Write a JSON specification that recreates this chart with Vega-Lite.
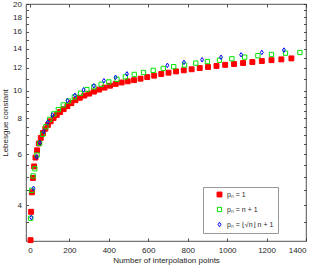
{
  "$schema": "https://vega.github.io/schema/vega-lite/v6.json",
  "width": 280,
  "height": 237,
  "autosize": {"type": "none"},
  "padding": {"left": 26, "top": 4, "right": 9, "bottom": 27},
  "config": {
    "view": {"stroke": "#262626", "strokeWidth": 0.8},
    "font": "Liberation Sans",
    "axis": {
      "domain": false,
      "grid": false,
      "tickColor": "#262626",
      "tickWidth": 0.8,
      "labelColor": "#262626",
      "labelFontSize": 8,
      "titleColor": "#262626",
      "titleFontSize": 8,
      "titleFontWeight": "normal"
    },
    "legend": {
      "labelFontSize": 7,
      "labelColor": "#262626",
      "strokeColor": "#999999",
      "fillColor": "white",
      "padding": 4,
      "rowPadding": 6,
      "symbolOffset": 9,
      "labelOffset": 4
    }
  },
  "data": {
    "values": [
      {"s": "pₙ = 1", "n": 3, "v": 3.02},
      {"s": "pₙ = 1", "n": 6, "v": 3.79},
      {"s": "pₙ = 1", "n": 10, "v": 4.43},
      {"s": "pₙ = 1", "n": 15, "v": 4.97},
      {"s": "pₙ = 1", "n": 21, "v": 5.45},
      {"s": "pₙ = 1", "n": 28, "v": 5.85},
      {"s": "pₙ = 1", "n": 36, "v": 6.2},
      {"s": "pₙ = 1", "n": 45, "v": 6.55},
      {"s": "pₙ = 1", "n": 55, "v": 6.85},
      {"s": "pₙ = 1", "n": 66, "v": 7.12},
      {"s": "pₙ = 1", "n": 78, "v": 7.37},
      {"s": "pₙ = 1", "n": 91, "v": 7.6},
      {"s": "pₙ = 1", "n": 105, "v": 7.82},
      {"s": "pₙ = 1", "n": 120, "v": 8.03},
      {"s": "pₙ = 1", "n": 136, "v": 8.23},
      {"s": "pₙ = 1", "n": 153, "v": 8.42},
      {"s": "pₙ = 1", "n": 171, "v": 8.62},
      {"s": "pₙ = 1", "n": 190, "v": 8.83},
      {"s": "pₙ = 1", "n": 210, "v": 9.05},
      {"s": "pₙ = 1", "n": 231, "v": 9.26},
      {"s": "pₙ = 1", "n": 253, "v": 9.44},
      {"s": "pₙ = 1", "n": 276, "v": 9.61},
      {"s": "pₙ = 1", "n": 300, "v": 9.76},
      {"s": "pₙ = 1", "n": 325, "v": 9.92},
      {"s": "pₙ = 1", "n": 351, "v": 10.08},
      {"s": "pₙ = 1", "n": 378, "v": 10.24},
      {"s": "pₙ = 1", "n": 406, "v": 10.4},
      {"s": "pₙ = 1", "n": 435, "v": 10.55},
      {"s": "pₙ = 1", "n": 465, "v": 10.67},
      {"s": "pₙ = 1", "n": 496, "v": 10.77},
      {"s": "pₙ = 1", "n": 528, "v": 10.87},
      {"s": "pₙ = 1", "n": 561, "v": 11.0},
      {"s": "pₙ = 1", "n": 595, "v": 11.14},
      {"s": "pₙ = 1", "n": 630, "v": 11.27},
      {"s": "pₙ = 1", "n": 666, "v": 11.42},
      {"s": "pₙ = 1", "n": 703, "v": 11.54},
      {"s": "pₙ = 1", "n": 741, "v": 11.66},
      {"s": "pₙ = 1", "n": 780, "v": 11.76},
      {"s": "pₙ = 1", "n": 820, "v": 11.86},
      {"s": "pₙ = 1", "n": 861, "v": 11.98},
      {"s": "pₙ = 1", "n": 903, "v": 12.08},
      {"s": "pₙ = 1", "n": 946, "v": 12.18},
      {"s": "pₙ = 1", "n": 990, "v": 12.29},
      {"s": "pₙ = 1", "n": 1035, "v": 12.37},
      {"s": "pₙ = 1", "n": 1081, "v": 12.47},
      {"s": "pₙ = 1", "n": 1128, "v": 12.57},
      {"s": "pₙ = 1", "n": 1176, "v": 12.67},
      {"s": "pₙ = 1", "n": 1225, "v": 12.76},
      {"s": "pₙ = 1", "n": 1275, "v": 12.84},
      {"s": "pₙ = 1", "n": 1326, "v": 12.94},
      {"s": "pₙ = n + 1", "n": 4, "v": 3.6},
      {"s": "pₙ = n + 1", "n": 9, "v": 4.5},
      {"s": "pₙ = n + 1", "n": 16, "v": 5.05},
      {"s": "pₙ = n + 1", "n": 25, "v": 5.35},
      {"s": "pₙ = n + 1", "n": 36, "v": 5.97},
      {"s": "pₙ = n + 1", "n": 49, "v": 6.55},
      {"s": "pₙ = n + 1", "n": 64, "v": 7.05},
      {"s": "pₙ = n + 1", "n": 81, "v": 7.49},
      {"s": "pₙ = n + 1", "n": 100, "v": 7.94},
      {"s": "pₙ = n + 1", "n": 121, "v": 8.3},
      {"s": "pₙ = n + 1", "n": 144, "v": 8.59},
      {"s": "pₙ = n + 1", "n": 169, "v": 8.92},
      {"s": "pₙ = n + 1", "n": 196, "v": 9.2},
      {"s": "pₙ = n + 1", "n": 225, "v": 9.5},
      {"s": "pₙ = n + 1", "n": 256, "v": 9.79},
      {"s": "pₙ = n + 1", "n": 289, "v": 10.08},
      {"s": "pₙ = n + 1", "n": 324, "v": 10.3},
      {"s": "pₙ = n + 1", "n": 361, "v": 10.52},
      {"s": "pₙ = n + 1", "n": 400, "v": 10.72},
      {"s": "pₙ = n + 1", "n": 441, "v": 10.95},
      {"s": "pₙ = n + 1", "n": 484, "v": 11.16},
      {"s": "pₙ = n + 1", "n": 529, "v": 11.38},
      {"s": "pₙ = n + 1", "n": 576, "v": 11.56},
      {"s": "pₙ = n + 1", "n": 625, "v": 11.76},
      {"s": "pₙ = n + 1", "n": 676, "v": 11.94},
      {"s": "pₙ = n + 1", "n": 729, "v": 12.11},
      {"s": "pₙ = n + 1", "n": 784, "v": 12.27},
      {"s": "pₙ = n + 1", "n": 841, "v": 12.46},
      {"s": "pₙ = n + 1", "n": 900, "v": 12.62},
      {"s": "pₙ = n + 1", "n": 961, "v": 12.75},
      {"s": "pₙ = n + 1", "n": 1024, "v": 12.9},
      {"s": "pₙ = n + 1", "n": 1089, "v": 13.07},
      {"s": "pₙ = n + 1", "n": 1156, "v": 13.22},
      {"s": "pₙ = n + 1", "n": 1225, "v": 13.35},
      {"s": "pₙ = n + 1", "n": 1296, "v": 13.49},
      {"s": "pₙ = n + 1", "n": 1369, "v": 13.57},
      {"s": "pₙ = ⌊√n⌋ n + 1", "n": 7, "v": 3.62},
      {"s": "pₙ = ⌊√n⌋ n + 1", "n": 18, "v": 4.57},
      {"s": "pₙ = ⌊√n⌋ n + 1", "n": 34, "v": 5.88},
      {"s": "pₙ = ⌊√n⌋ n + 1", "n": 50, "v": 6.59},
      {"s": "pₙ = ⌊√n⌋ n + 1", "n": 70, "v": 7.2},
      {"s": "pₙ = ⌊√n⌋ n + 1", "n": 90, "v": 7.77},
      {"s": "pₙ = ⌊√n⌋ n + 1", "n": 114, "v": 8.22},
      {"s": "pₙ = ⌊√n⌋ n + 1", "n": 190, "v": 9.23},
      {"s": "pₙ = ⌊√n⌋ n + 1", "n": 228, "v": 9.63},
      {"s": "pₙ = ⌊√n⌋ n + 1", "n": 272, "v": 10.06},
      {"s": "pₙ = ⌊√n⌋ n + 1", "n": 324, "v": 10.39},
      {"s": "pₙ = ⌊√n⌋ n + 1", "n": 375, "v": 10.82},
      {"s": "pₙ = ⌊√n⌋ n + 1", "n": 434, "v": 11.12},
      {"s": "pₙ = ⌊√n⌋ n + 1", "n": 492, "v": 11.43},
      {"s": "pₙ = ⌊√n⌋ n + 1", "n": 697, "v": 12.24},
      {"s": "pₙ = ⌊√n⌋ n + 1", "n": 781, "v": 12.53},
      {"s": "pₙ = ⌊√n⌋ n + 1", "n": 873, "v": 12.8},
      {"s": "pₙ = ⌊√n⌋ n + 1", "n": 969, "v": 13.06},
      {"s": "pₙ = ⌊√n⌋ n + 1", "n": 1071, "v": 13.32},
      {"s": "pₙ = ⌊√n⌋ n + 1", "n": 1176, "v": 13.57},
      {"s": "pₙ = ⌊√n⌋ n + 1", "n": 1288, "v": 13.83}
    ]
  },
  "layer": [
    {
      "mark": {"type": "point", "opacity": 1},
      "encoding": {
        "x": {
          "field": "n", "type": "quantitative",
          "scale": {"domain": [-20, 1400], "nice": false, "zero": false},
          "axis": {
            "orient": "bottom",
            "values": [0, 200, 400, 600, 800, 1000, 1200, 1400],
            "format": "d",
            "tickSize": -3,
            "labelPadding": 8,
            "title": "Number of interpolation points",
            "titlePadding": 2
          }
        },
        "y": {
          "field": "v", "type": "quantitative",
          "scale": {"type": "log", "domain": [3, 20], "nice": false, "zero": false},
          "axis": {
            "orient": "left",
            "values": [3.5, 4, 4.5, 5, 5.5, 6, 6.5, 7, 7.5, 8, 8.5, 9, 9.5, 10, 11, 12, 13, 14, 15, 16, 17, 18, 19, 20],
            "labelExpr": "indexof([4,6,8,10,12,14,16,18,20], datum.value) >= 0 ? datum.label : ''",
            "tickSize": -2.5,
            "labelPadding": 7,
            "title": "Lebesgue constant",
            "titlePadding": 3
          }
        },
        "shape": {
          "field": "s", "type": "nominal",
          "scale": {
            "domain": ["pₙ = 1", "pₙ = n + 1", "pₙ = ⌊√n⌋ n + 1"],
            "range": ["square", "square", "M0,-1.25L0.8,0L0,1.25L-0.8,0Z"]
          },
          "legend": {"orient": "none", "legendX": 177, "legendY": 183, "title": null}
        },
        "stroke": {
          "field": "s", "type": "nominal",
          "scale": {
            "domain": ["pₙ = 1", "pₙ = n + 1", "pₙ = ⌊√n⌋ n + 1"],
            "range": ["#ff0000", "#00e600", "#0000ff"]
          },
          "legend": {"orient": "none", "legendX": 177, "legendY": 183, "title": null}
        },
        "fill": {
          "field": "s", "type": "nominal",
          "scale": {
            "domain": ["pₙ = 1", "pₙ = n + 1", "pₙ = ⌊√n⌋ n + 1"],
            "range": ["#ff0000", "transparent", "transparent"]
          },
          "legend": {"orient": "none", "legendX": 177, "legendY": 183, "title": null}
        },
        "size": {
          "field": "s", "type": "nominal",
          "scale": {
            "domain": ["pₙ = 1", "pₙ = n + 1", "pₙ = ⌊√n⌋ n + 1"],
            "range": [24, 13, 22]
          },
          "legend": {"orient": "none", "legendX": 177, "legendY": 183, "title": null}
        },
        "strokeWidth": {
          "field": "s", "type": "nominal",
          "scale": {
            "domain": ["pₙ = 1", "pₙ = n + 1", "pₙ = ⌊√n⌋ n + 1"],
            "range": [1, 1, 1.6]
          },
          "legend": {"orient": "none", "legendX": 177, "legendY": 183, "title": null}
        }
      }
    },
    {
      "mark": {"type": "point", "opacity": 0},
      "encoding": {
        "x": {
          "field": "n", "type": "quantitative",
          "axis": {
            "orient": "top",
            "values": [0, 200, 400, 600, 800, 1000, 1200, 1400],
            "tickSize": -3,
            "labels": false,
            "title": null
          }
        },
        "y": {
          "field": "v", "type": "quantitative",
          "axis": {
            "orient": "right",
            "values": [3.5, 4, 4.5, 5, 5.5, 6, 6.5, 7, 7.5, 8, 8.5, 9, 9.5, 10, 11, 12, 13, 14, 15, 16, 17, 18, 19, 20],
            "tickSize": -2.5,
            "labels": false,
            "title": null
          }
        }
      }
    }
  ],
  "resolve": {"axis": {"x": "independent", "y": "independent"}}
}
